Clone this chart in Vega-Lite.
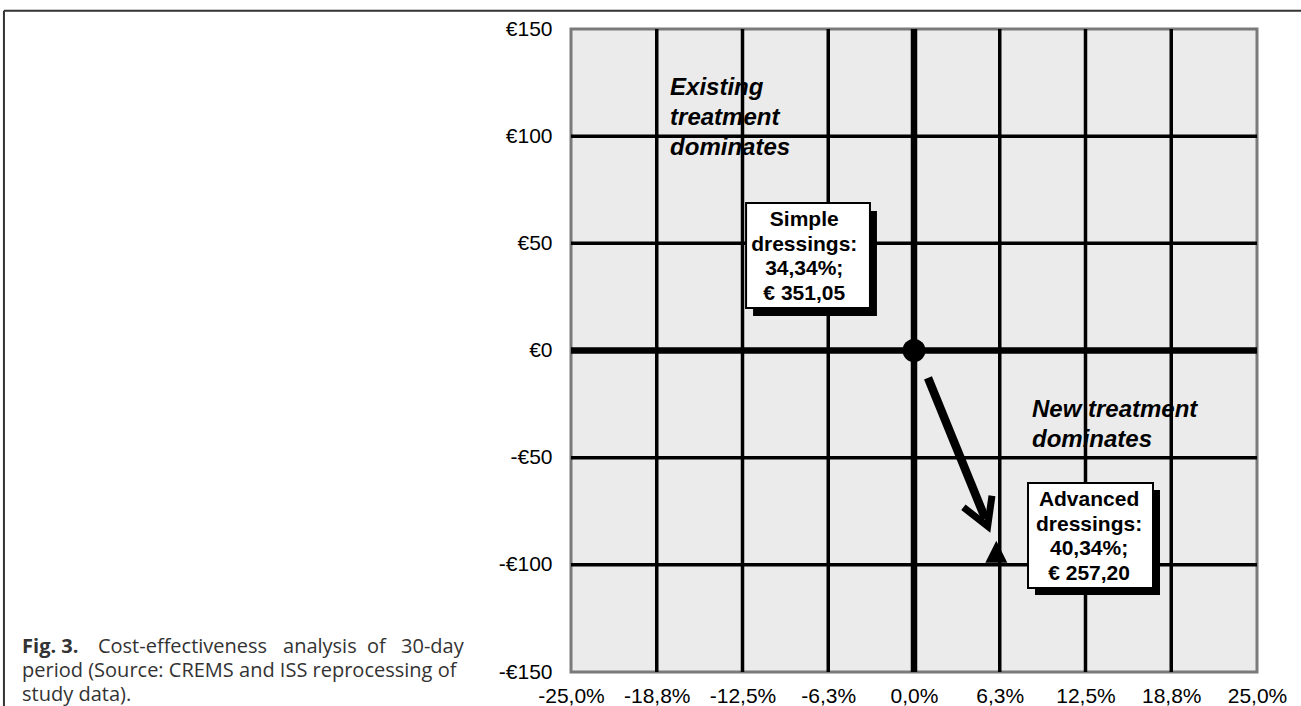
{
  "$schema": "https://vega.github.io/schema/vega-lite/v6.json",
  "width": 686,
  "height": 643,
  "autosize": {"type": "none"},
  "padding": {"left": 571, "top": 29, "right": 44, "bottom": 34},
  "background": "white",
  "config": {
    "view": {"fill": "#ebebeb", "stroke": "#7a7a7a", "strokeWidth": 3},
    "axis": {"domain": false, "ticks": false, "grid": false, "labelFont": "Liberation Sans", "labelFontSize": 21, "labelColor": "#000"}
  },
  "datasets": {
    "quad": [
      {"x": -17.78, "y": 122.5, "t": "Existing\ntreatment\ndominates"},
      {"x": 8.6, "y": -27.8, "t": "New treatment\ndominates"}
    ],
    "gridx": [{"x": -18.75}, {"x": -12.5}, {"x": -6.25}, {"x": 6.25}, {"x": 12.5}, {"x": 18.75}],
    "gridy": [{"y": -100}, {"y": -50}, {"y": 50}, {"y": 100}],
    "zerox": [{"x": 0}],
    "zeroy": [{"y": 0}],
    "arrow": [{"x": 1.02, "y": -12.8, "x2": 5.2, "y2": -78.5}],
    "arrowhead": [{"x": 5.37, "y": -82.0}],
    "simple": [{"x": 0, "y": 0, "name": "Simple dressings"}],
    "advanced": [{"x": 6.0, "y": -93.85, "name": "Advanced dressings"}],
    "boxes": [
      {"bx": -12.24, "bx2": -3.21, "by": 68.8, "by2": 19.8, "sx": -11.73, "sx2": -2.70, "sy": 65.1, "sy2": 16.1, "tx": -8.0, "ty": 60.9, "t": "Simple\ndressings:\n34,34%;\n€ 351,05"},
      {"bx": 8.31, "bx2": 17.42, "by": -61.8, "by2": -110.8, "sx": 8.82, "sx2": 17.93, "sy": -65.1, "sy2": -114.1, "tx": 12.76, "ty": -69.8, "t": "Advanced\ndressings:\n40,34%;\n€ 257,20"}
    ],
    "capbold": [{"x": -65.01, "y": -138.3, "t": "Fig. 3."}],
    "capnorm": [
      {"x": -59.48, "y": -138.3, "t": "Cost-effectiveness"},
      {"x": -45.99, "y": -138.3, "t": "analysis"},
      {"x": -39.87, "y": -138.3, "t": "of"},
      {"x": -37.39, "y": -138.3, "t": "30-day"},
      {"x": -65.01, "y": -149.6, "t": "period (Source: CREMS and ISS reprocessing of"},
      {"x": -65.01, "y": -160.9, "t": "study data)."}
    ],
    "frame": [
      {"x": -66.33, "y": 158.5, "x2": 31, "y2": 158.5},
      {"x": -66.33, "y": 158.5, "x2": -66.33, "y2": -172}
    ]
  },
  "layer": [
    {
      "data": {"name": "quad"},
      "mark": {"type": "text", "align": "left", "baseline": "middle", "font": "Liberation Sans", "fontStyle": "italic", "fontWeight": "bold", "fontSize": 24, "lineHeight": 30, "lineBreak": "\n", "color": "#000"},
      "encoding": {
        "x": {"field": "x", "type": "quantitative", "title": null, "scale": {"domain": [-25, 25], "nice": false, "zero": false},
              "axis": {"values": [-25, -18.75, -12.5, -6.25, 0, 6.25, 12.5, 18.75, 25], "labelExpr": "(datum.value < 0 ? '-' : '') + replace(format(abs(datum.value), '.1f'), '.', ',') + '%'", "labelPadding": 13, "labelFlush": false, "labelOverlap": false}},
        "y": {"field": "y", "type": "quantitative", "title": null, "scale": {"domain": [-150, 150], "nice": false, "zero": false},
              "axis": {"values": [-150, -100, -50, 0, 50, 100, 150], "labelExpr": "(datum.value < 0 ? '-' : '') + '€' + abs(datum.value)", "labelPadding": 19, "labelOverlap": false}},
        "text": {"field": "t"}
      }
    },
    {
      "data": {"name": "gridx"},
      "mark": {"type": "rule", "color": "#000", "strokeWidth": 3.5},
      "encoding": {"x": {"field": "x", "type": "quantitative", "title": null, "scale": {"domain": [-25, 25], "nice": false, "zero": false}}}
    },
    {
      "data": {"name": "gridy"},
      "mark": {"type": "rule", "color": "#000", "strokeWidth": 3.5},
      "encoding": {"y": {"field": "y", "type": "quantitative", "title": null, "scale": {"domain": [-150, 150], "nice": false, "zero": false}}}
    },
    {
      "data": {"name": "zerox"},
      "mark": {"type": "rule", "color": "#000", "strokeWidth": 6.5},
      "encoding": {"x": {"field": "x", "type": "quantitative", "title": null, "scale": {"domain": [-25, 25], "nice": false, "zero": false}}}
    },
    {
      "data": {"name": "zeroy"},
      "mark": {"type": "rule", "color": "#000", "strokeWidth": 6.5},
      "encoding": {"y": {"field": "y", "type": "quantitative", "title": null, "scale": {"domain": [-150, 150], "nice": false, "zero": false}}}
    },
    {
      "data": {"name": "arrow"},
      "mark": {"type": "rule", "color": "#000", "strokeWidth": 8.5, "strokeCap": "butt"},
      "encoding": {
        "x": {"field": "x", "type": "quantitative", "title": null, "scale": {"domain": [-25, 25], "nice": false, "zero": false}},
        "y": {"field": "y", "type": "quantitative", "title": null, "scale": {"domain": [-150, 150], "nice": false, "zero": false}},
        "x2": {"field": "x2"},
        "y2": {"field": "y2"}
      }
    },
    {
      "data": {"name": "arrowhead"},
      "mark": {"type": "point", "shape": "M-0.5,-0.866L0,0L0.5,-0.866", "size": 3800, "angle": -22, "filled": false, "stroke": "#000", "strokeWidth": 7, "strokeJoin": "miter", "strokeCap": "butt", "opacity": 1},
      "encoding": {
        "x": {"field": "x", "type": "quantitative", "title": null, "scale": {"domain": [-25, 25], "nice": false, "zero": false}},
        "y": {"field": "y", "type": "quantitative", "title": null, "scale": {"domain": [-150, 150], "nice": false, "zero": false}}
      }
    },
    {
      "data": {"name": "simple"},
      "mark": {"type": "point", "shape": "circle", "size": 529, "filled": true, "color": "#000", "opacity": 1},
      "encoding": {
        "x": {"field": "x", "type": "quantitative", "title": null, "scale": {"domain": [-25, 25], "nice": false, "zero": false}},
        "y": {"field": "y", "type": "quantitative", "title": null, "scale": {"domain": [-150, 150], "nice": false, "zero": false}}
      }
    },
    {
      "data": {"name": "advanced"},
      "mark": {"type": "point", "shape": "M0,-1L-1,1L1,1Z", "size": 484, "filled": true, "color": "#000", "opacity": 1},
      "encoding": {
        "x": {"field": "x", "type": "quantitative", "title": null, "scale": {"domain": [-25, 25], "nice": false, "zero": false}},
        "y": {"field": "y", "type": "quantitative", "title": null, "scale": {"domain": [-150, 150], "nice": false, "zero": false}}
      }
    },
    {
      "data": {"name": "boxes"},
      "mark": {"type": "rect", "fill": "#000"},
      "encoding": {
        "x": {"field": "sx", "type": "quantitative", "title": null, "scale": {"domain": [-25, 25], "nice": false, "zero": false}},
        "x2": {"field": "sx2"},
        "y": {"field": "sy", "type": "quantitative", "title": null, "scale": {"domain": [-150, 150], "nice": false, "zero": false}},
        "y2": {"field": "sy2"}
      }
    },
    {
      "data": {"name": "boxes"},
      "mark": {"type": "rect", "fill": "#fff", "stroke": "#000", "strokeWidth": 2},
      "encoding": {
        "x": {"field": "bx", "type": "quantitative", "title": null, "scale": {"domain": [-25, 25], "nice": false, "zero": false}},
        "x2": {"field": "bx2"},
        "y": {"field": "by", "type": "quantitative", "title": null, "scale": {"domain": [-150, 150], "nice": false, "zero": false}},
        "y2": {"field": "by2"}
      }
    },
    {
      "data": {"name": "boxes"},
      "mark": {"type": "text", "align": "center", "baseline": "middle", "font": "Liberation Sans", "fontWeight": "bold", "fontSize": 21, "lineHeight": 24.7, "lineBreak": "\n", "color": "#000"},
      "encoding": {
        "x": {"field": "tx", "type": "quantitative", "title": null, "scale": {"domain": [-25, 25], "nice": false, "zero": false}},
        "y": {"field": "ty", "type": "quantitative", "title": null, "scale": {"domain": [-150, 150], "nice": false, "zero": false}},
        "text": {"field": "t"}
      }
    },
    {
      "data": {"name": "capbold"},
      "mark": {"type": "text", "align": "left", "baseline": "middle", "font": "Open Sans", "fontWeight": "bold", "fontSize": 20, "color": "#333", "clip": false},
      "encoding": {
        "x": {"field": "x", "type": "quantitative", "title": null, "scale": {"domain": [-25, 25], "nice": false, "zero": false}},
        "y": {"field": "y", "type": "quantitative", "title": null, "scale": {"domain": [-150, 150], "nice": false, "zero": false}},
        "text": {"field": "t"}
      }
    },
    {
      "data": {"name": "capnorm"},
      "mark": {"type": "text", "align": "left", "baseline": "middle", "font": "Open Sans", "fontSize": 20, "color": "#333", "clip": false},
      "encoding": {
        "x": {"field": "x", "type": "quantitative", "title": null, "scale": {"domain": [-25, 25], "nice": false, "zero": false}},
        "y": {"field": "y", "type": "quantitative", "title": null, "scale": {"domain": [-150, 150], "nice": false, "zero": false}},
        "text": {"field": "t"}
      }
    },
    {
      "data": {"name": "frame"},
      "mark": {"type": "rule", "color": "#333", "strokeWidth": 2, "clip": false},
      "encoding": {
        "x": {"field": "x", "type": "quantitative", "title": null, "scale": {"domain": [-25, 25], "nice": false, "zero": false}},
        "y": {"field": "y", "type": "quantitative", "title": null, "scale": {"domain": [-150, 150], "nice": false, "zero": false}},
        "x2": {"field": "x2"},
        "y2": {"field": "y2"}
      }
    }
  ]
}
